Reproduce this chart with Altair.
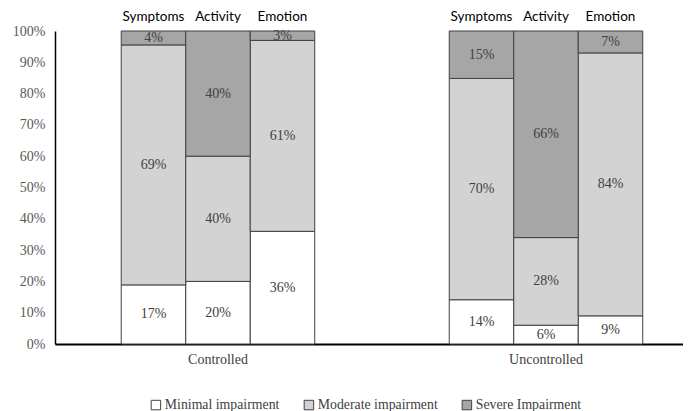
import altair as alt
import pandas as pd

groups = ["Controlled", "Uncontrolled"]
domains = ["Symptoms", "Activity", "Emotion"]
levels = ["Minimal impairment", "Moderate impairment", "Severe Impairment"]
minimal = [17, 20, 36, 14, 6, 9]
moderate = [69, 40, 61, 70, 28, 84]
severe = [4, 40, 3, 15, 66, 7]
yticks = [0, 10, 20, 30, 40, 50, 60, 70, 80, 90, 100]

rows = []
i = 0
for g in groups:
    for d in domains:
        for li, (lv, arr) in enumerate(zip(levels, [minimal, moderate, severe])):
            rows.append({"group": g, "domain": d, "level": lv, "lvl": li, "value": arr[i]})
        i += 1
df = pd.DataFrame(rows)
tops = pd.DataFrame([{"group": g, "domain": d} for g in groups for d in domains])

SERIF = "'Liberation Serif', 'Times New Roman', serif"

xenc = alt.X("group:N", sort=groups,
             scale=alt.Scale(paddingInner=0.1646, paddingOuter=0.0396, align=1),
             axis=alt.Axis(title=None, ticks=False, labelFont=SERIF, labelFontSize=14,
                           labelColor="#404040", labelAngle=0, labelPadding=8,
                           domainColor="#000000", domainWidth=2))
xoff = alt.XOffset("domain:N", sort=domains,
                   scale=alt.Scale(paddingInner=0, paddingOuter=0.624))

yaxis = alt.Axis(title=None, values=yticks, labelExpr="datum.value + '%'",
                 ticks=False, grid=False, labelFont=SERIF, labelFontSize=14,
                 labelColor="#595959", labelPadding=10, labelOverlap=False,
                 labelSeparation=0, domainColor="#000000", domainWidth=1.5)
yscale = alt.Scale(domain=[0, 100], nice=False)

base = alt.Chart(df).transform_joinaggregate(
    total="sum(value)", groupby=["group", "domain"]
).transform_calculate(
    frac="100 * datum.value / datum.total"
).transform_window(
    cum="sum(frac)", groupby=["group", "domain"], sort=[alt.SortField("lvl")],
    frame=[None, 0]
).transform_calculate(
    start="datum.cum - datum.frac",
    mid="datum.cum - datum.frac / 2",
    lab="datum.value + '%'"
)

bars = base.mark_bar(stroke="#404040", strokeWidth=1).encode(
    x=xenc, xOffset=xoff,
    y=alt.Y("start:Q", scale=yscale, axis=yaxis),
    y2="cum:Q",
    color=alt.Color("level:N", sort=levels,
                    scale=alt.Scale(domain=levels, range=["#FFFFFF", "#D3D3D3", "#A6A6A6"]),
                    legend=alt.Legend(title=None, orient="none", direction="horizontal",
                                      legendX=94, legendY=367,
                                      symbolType="square", symbolSize=90,
                                      symbolStrokeColor="#404040", symbolStrokeWidth=1,
                                      labelFont=SERIF, labelFontSize=13.8, labelColor="#404040",
                                      labelOffset=2, columnPadding=22)),
    order=alt.Order("lvl:Q"),
)

texts = base.mark_text(font=SERIF, fontSize=14, color="#404040").encode(
    x=xenc, xOffset=xoff,
    y=alt.Y("mid:Q", scale=yscale, axis=yaxis),
    text="lab:N",
)

toplabels = alt.Chart(tops).mark_text(font="Lato", fontSize=13.5, color="#000000", dy=-14).encode(
    x=xenc, xOffset=xoff,
    y=alt.datum(100, scale=yscale, axis=yaxis),
    text="domain:N",
)

chart = alt.layer(bars, texts, toplabels).properties(
    width=628, height=313,
    padding={"left": 4, "top": 2, "right": 0, "bottom": 0},
).configure_view(stroke=None)

chart.save("out.html", embed_options={"renderer": "svg", "actions": False})
